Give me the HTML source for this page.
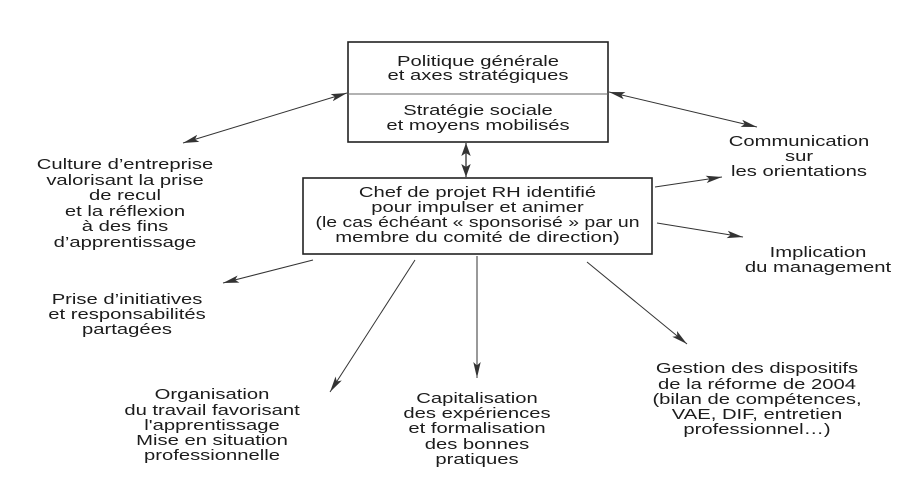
<!DOCTYPE html>
<html>
<head>
<meta charset="utf-8">
<style>
  html,body{margin:0;padding:0;background:#fff;}
  svg{display:block;}
  text{font-family:"Liberation Sans", Arial, sans-serif;font-size:15px;fill:#1c1c1c;}
</style>
</head>
<body>
<svg width="908" height="479" viewBox="0 0 908 479" xmlns="http://www.w3.org/2000/svg">
  <defs>
    <marker id="ah" viewBox="0 0 16 8" refX="16" refY="4" markerWidth="16" markerHeight="8" markerUnits="userSpaceOnUse" orient="auto-start-reverse">
      <path d="M0,0.3 L16,4 L0,7.7 L3.5,4 Z" fill="#333"/>
    </marker>
    <marker id="ahs" viewBox="0 0 13 10" refX="13" refY="5" markerWidth="13" markerHeight="10" markerUnits="userSpaceOnUse" orient="auto-start-reverse">
      <path d="M0,0.3 L13,5 L0,9.7 L3,5 Z" fill="#333"/>
    </marker>
  </defs>

  <!-- Top box -->
  <rect x="348" y="42" width="260" height="100" fill="none" stroke="#222" stroke-width="1.6"/>
  <line x1="348" y1="94" x2="608" y2="94" stroke="#666" stroke-width="1"/>

  <!-- Middle box -->
  <rect x="303" y="178" width="349" height="76" fill="none" stroke="#222" stroke-width="1.6"/>

  <!-- Connectors -->
  <g stroke="#333" stroke-width="1" fill="none">
    <line x1="183" y1="143" x2="347" y2="93" marker-start="url(#ah)" marker-end="url(#ah)"/>
    <line x1="609" y1="92" x2="757" y2="127" marker-start="url(#ah)" marker-end="url(#ah)"/>
    <line x1="466" y1="143" x2="466" y2="177" stroke-width="1.3" marker-start="url(#ahs)" marker-end="url(#ahs)"/>
    <line x1="655" y1="187" x2="722" y2="177" marker-end="url(#ah)"/>
    <line x1="657" y1="223" x2="743" y2="237" marker-end="url(#ah)"/>
    <line x1="313" y1="260" x2="223" y2="283" marker-end="url(#ah)"/>
    <line x1="415" y1="260" x2="330" y2="392" marker-end="url(#ah)"/>
    <line x1="477" y1="256" x2="477" y2="378" marker-end="url(#ah)"/>
    <line x1="587" y1="262" x2="687" y2="344" marker-end="url(#ah)"/>
  </g>

  <!-- Top box text -->
  <g transform="translate(478,0) scale(1.35,1)" text-anchor="middle">
    <text x="0" y="66">Politique générale</text>
    <text x="0" y="80">et axes stratégiques</text>
    <text x="0" y="115">Stratégie sociale</text>
    <text x="0" y="130">et moyens mobilisés</text>
  </g>

  <!-- Middle box text -->
  <g transform="translate(477.5,0) scale(1.35,1)" text-anchor="middle">
    <text x="0" y="197">Chef de projet RH identifié</text>
    <text x="0" y="212">pour impulser et animer</text>
    <text x="0" y="227" textLength="240" lengthAdjust="spacingAndGlyphs">(le cas échéant « sponsorisé » par un</text>
    <text x="0" y="242">membre du comité de direction)</text>
  </g>

  <!-- Culture -->
  <g transform="translate(125,0) scale(1.35,1)" text-anchor="middle">
    <text x="0" y="169">Culture d’entreprise</text>
    <text x="0" y="185">valorisant la prise</text>
    <text x="0" y="200">de recul</text>
    <text x="0" y="216">et la réflexion</text>
    <text x="0" y="231">à des fins</text>
    <text x="0" y="247">d’apprentissage</text>
  </g>

  <!-- Prise -->
  <g transform="translate(127,0) scale(1.35,1)" text-anchor="middle">
    <text x="0" y="304">Prise d’initiatives</text>
    <text x="0" y="319">et responsabilités</text>
    <text x="0" y="334">partagées</text>
  </g>

  <!-- Communication -->
  <g transform="translate(799,0) scale(1.35,1)" text-anchor="middle">
    <text x="0" y="146">Communication</text>
    <text x="0" y="161">sur</text>
    <text x="0" y="176">les orientations</text>
  </g>

  <!-- Implication -->
  <g transform="translate(818,0) scale(1.35,1)" text-anchor="middle">
    <text x="0" y="257">Implication</text>
    <text x="0" y="272">du management</text>
  </g>

  <!-- Organisation -->
  <g transform="translate(212,0) scale(1.35,1)" text-anchor="middle">
    <text x="0" y="399">Organisation</text>
    <text x="0" y="415">du travail favorisant</text>
    <text x="0" y="430">l'apprentissage</text>
    <text x="0" y="445">Mise en situation</text>
    <text x="0" y="460">professionnelle</text>
  </g>

  <!-- Capitalisation -->
  <g transform="translate(477,0) scale(1.35,1)" text-anchor="middle">
    <text x="0" y="403">Capitalisation</text>
    <text x="0" y="418">des expériences</text>
    <text x="0" y="433">et formalisation</text>
    <text x="0" y="449">des bonnes</text>
    <text x="0" y="464">pratiques</text>
  </g>

  <!-- Gestion -->
  <g transform="translate(757,0) scale(1.35,1)" text-anchor="middle">
    <text x="0" y="373">Gestion des dispositifs</text>
    <text x="0" y="389">de la réforme de 2004</text>
    <text x="0" y="404">(bilan de compétences,</text>
    <text x="0" y="419">VAE, DIF, entretien</text>
    <text x="0" y="434">professionnel…)</text>
  </g>
</svg>
</body>
</html>
